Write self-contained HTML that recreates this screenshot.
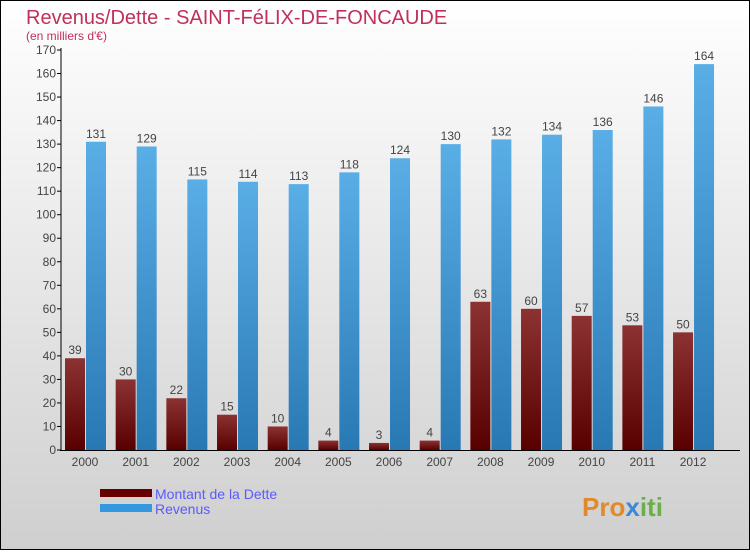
<!DOCTYPE html>
<html><head><meta charset="utf-8"><style>
body{margin:0;}
#c{position:relative;width:750px;height:550px;}
text{font-family:"Liberation Sans",sans-serif;}
</style></head><body>
<div id="c">
<svg id="s" width="750" height="550" xmlns="http://www.w3.org/2000/svg">
<defs>
<linearGradient id="bg" x1="0" y1="0" x2="0" y2="1"><stop offset="0" stop-color="#ffffff"/><stop offset="1" stop-color="#cfcfcf"/></linearGradient>
<linearGradient id="gd" x1="0" y1="0" x2="0" y2="1"><stop offset="0" stop-color="#8c3232"/><stop offset="1" stop-color="#580000"/></linearGradient>
<linearGradient id="gr" x1="0" y1="0" x2="0" y2="1"><stop offset="0" stop-color="#5aaee6"/><stop offset="1" stop-color="#2878b4"/></linearGradient>
</defs>
<rect x="0.5" y="0.5" width="749" height="549" fill="url(#bg)" stroke="#000"/>
<text x="26" y="24" font-size="20" fill="#c0305a">Revenus/Dette - SAINT-FéLIX-DE-FONCAUDE</text>
<text x="26" y="40" font-size="12" fill="#c0305a">(en milliers d'€)</text>
<g id="marks"></g>
<line x1="61" y1="48" x2="61" y2="451" stroke="#000"/>
<line x1="60" y1="450.5" x2="740" y2="450.5" stroke="#000"/>
<rect x="100" y="489" width="52" height="8" fill="#660000"/>
<rect x="100" y="504" width="52" height="8" fill="#3398dd"/>
<text x="155" y="499" font-size="14" fill="#5a5aff">Montant de la Dette</text>
<text x="155" y="514" font-size="14" fill="#5a5aff">Revenus</text>
<text x="582" y="516" font-size="26" font-weight="bold" fill="#e08a2a">Pro<tspan fill="#3a8ad8">x</tspan><tspan fill="#6ab04a">iti</tspan></text>
</svg></div>
<script>
const years=["2000","2001","2002","2003","2004","2005","2006","2007","2008","2009","2010","2011","2012"];
const dette=[39,30,22,15,10,4,3,4,63,60,57,53,50];
const revenus=[131,129,115,114,113,118,124,130,132,134,136,146,164];
const yTicks=[0,10,20,30,40,50,60,70,80,90,100,110,120,130,140,150,160,170];
const NS="http://www.w3.org/2000/svg";
const g=document.getElementById('marks');
const y=v=>450-v*400/170;
const x=i=>85+i*50.67;
function mk(t,a){const e=document.createElementNS(NS,t);for(const k in a)e.setAttribute(k,a[k]);g.appendChild(e);return e;}
yTicks.forEach(v=>{
 const l=mk('line',{x1:57,x2:61,y1:y(v),y2:y(v),stroke:'#000'});
 
 
 const t=mk('text',{x:56,y:y(v)+4,'font-size':12,fill:'#444','text-anchor':'end'});t.textContent=v;
 
 
});
years.forEach((yr,i)=>{
 const cx=x(i);
 const b1=mk('rect',{x:cx-20,y:y(dette[i]),width:20,height:450-y(dette[i]),fill:'url(#gd)'});
 
 
 const b2=mk('rect',{x:cx+1,y:y(revenus[i]),width:20,height:450-y(revenus[i]),fill:'url(#gr)'});
 
 
 const t1=mk('text',{x:cx-10,y:y(dette[i])-4,'font-size':12,fill:'#444','text-anchor':'middle'});t1.textContent=dette[i];
 
 
 const t2=mk('text',{x:cx+11,y:y(revenus[i])-4,'font-size':12,fill:'#444','text-anchor':'middle'});t2.textContent=revenus[i];
 
 
 const xl=mk('text',{x:cx,y:466,'font-size':12,fill:'#444','text-anchor':'middle'});xl.textContent=yr;
 
 
});
</script>
</body></html>
